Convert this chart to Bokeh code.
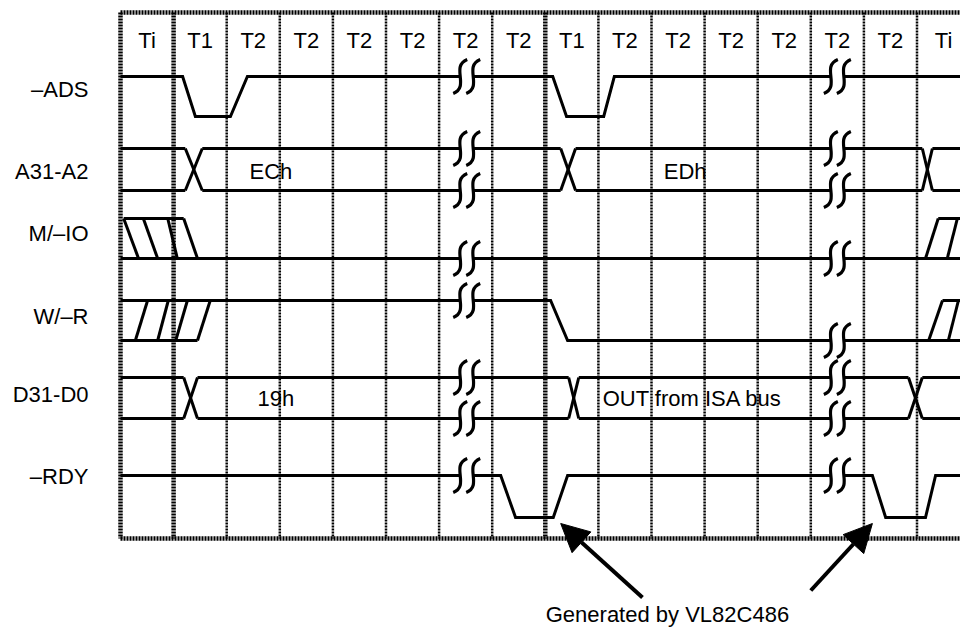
import numpy as np
from bokeh.plotting import figure
from bokeh.models import Range1d, Arrow, NormalHead
from bokeh.embed import file_html
from bokeh.resources import INLINE
from bokeh.core.properties import value

# ---------------- data (time in clock cycles, levels 1=high 0=low) ----------------
cycle_labels = ["Ti", "T1", "T2", "T2", "T2", "T2", "T2", "T2",
                "T1", "T2", "T2", "T2", "T2", "T2", "T2", "Ti"]
heavy_edges = [0, 1, 8]
signal_names = ["–ADS", "A31-A2", "M/–IO", "W/–R", "D31-D0", "–RDY"]
break_times = [6.52, 13.5]

ads_t = [0, 1.17, 1.41, 2.07, 2.39, 8.14, 8.40, 9.10, 9.30, 16]
ads_lv = [1, 1, 0, 0, 1, 1, 0, 0, 1, 1]

addr_cross = [(1.22, 1.54), (8.29, 8.57), (15.10, 15.29)]
addr_values = ["ECh", "EDh"]
addr_value_t = [2.43, 10.23]

mio_t = [[0.06, 1.19], [0, 16], [15.40, 16]]
mio_lv = [[1, 1], [0, 0], [1, 1]]
mio_hatch_hi = [0.06, 0.43, 0.89, 1.19, 15.40, 15.76]
mio_hatch_lo = [0.34, 0.70, 1.07, 1.45, 15.16, 15.57]

wr_t = [[0, 8.10, 8.42, 16], [0, 1.45], [15.48, 16]]
wr_lv = [[1, 1, 0, 0], [0, 0], [1, 1]]
wr_hatch_hi = [0.51, 0.90, 1.26, 1.69, 15.48, 15.78]
wr_hatch_lo = [0.28, 0.70, 1.04, 1.45, 15.22, 15.59]

data_cross = [(1.19, 1.45), (8.44, 8.63), (14.84, 15.10)]
data_values = ["19h", "OUT from ISA bus"]
data_value_t = [2.58, 9.08]

rdy_t = [0, 7.16, 7.44, 8.15, 8.42, 14.16, 14.41, 15.16, 15.35, 16]
rdy_lv = [1, 1, 0, 0, 1, 1, 0, 0, 1, 1]

note_text = "Generated by VL82C486"
note_t = 10.3
arrow_tail_t = [9.83, 13.0]
arrow_head_t = [8.29, 14.16]

# ---------------- layout (pixels) ----------------
PX = 53.1          # pixels per clock cycle
X0 = 120           # pixel x of cycle 0
W, H = 960, 628
def tx(px):
    return (px - X0) / PX

row_hi = [76, 148, 218, 300, 377, 475]
row_lo = [116, 190, 258, 340, 418, 517]
label_y = [89, 171, 233, 316, 394, 476]
GRID_TOP, GRID_BOT = 12, 538
HEADER_Y = 40
FONT = value("Liberation Sans")
FS = "22px"

p = figure(width=W, height=H, output_backend="svg", toolbar_location=None,
           x_range=Range1d(tx(0), tx(W)), y_range=Range1d(H, 0),
           x_axis_type=None, y_axis_type=None, min_border=0,
           outline_line_color=None, background_fill_color="white",
           border_fill_color="white")

# ---- grid ----
edges = list(range(0, len(cycle_labels) + 1))
thin = [e for e in edges if e not in heavy_edges]
p.segment(x0=thin, y0=GRID_TOP, x1=thin, y1=GRID_BOT, line_color="black",
          line_width=2.5, line_dash="2 1")
p.segment(x0=heavy_edges, y0=GRID_TOP, x1=heavy_edges, y1=GRID_BOT,
          line_color="black", line_width=4.5, line_dash="2 1")
p.segment(x0=[0, 0], y0=[GRID_TOP, GRID_BOT], x1=[16, 16], y1=[GRID_TOP, GRID_BOT],
          line_color="black", line_width=4.5, line_dash="2 1")

# header
p.text(x=[i + 0.5 for i in range(len(cycle_labels))], y=[HEADER_Y] * len(cycle_labels),
       text=cycle_labels, text_font=FONT, text_font_size=FS,
       text_align="center", text_baseline="middle", text_color="black")

# signal names
p.text(x=[tx(88)] * len(signal_names), y=label_y, text=signal_names,
       text_font=FONT, text_font_size=FS, text_align="right",
       text_baseline="middle", text_color="black")

# ---- waveforms ----
GAP = 6.5 / PX
xs_all, ys_all, marks = [], [], []

def add_path(ts, ys):
    cur_t, cur_y = [ts[0]], [ys[0]]
    for i in range(len(ts) - 1):
        t0, t1, y0, y1 = ts[i], ts[i + 1], ys[i], ys[i + 1]
        for b in break_times:
            if t0 < b - GAP and b + GAP < t1 and y0 == y1:
                cur_t.append(b - GAP); cur_y.append(y0)
                xs_all.append(cur_t); ys_all.append(cur_y)
                marks.append((b - GAP, y0)); marks.append((b + GAP, y0))
                cur_t, cur_y = [b + GAP], [y0]
        cur_t.append(t1); cur_y.append(y1)
    xs_all.append(cur_t); ys_all.append(cur_y)

def lv2y(row, lvs):
    return [row_lo[row] + l * (row_hi[row] - row_lo[row]) for l in lvs]

add_path(ads_t, lv2y(0, ads_lv))
add_path(rdy_t, lv2y(5, rdy_lv))
for ts, lv in zip(mio_t, mio_lv):
    add_path(ts, lv2y(2, lv))
for ts, lv in zip(wr_t, wr_lv):
    add_path(ts, lv2y(3, lv))
hx0, hy0, hx1, hy1 = [], [], [], []
for a, b in zip(mio_hatch_hi, mio_hatch_lo):
    hx0.append(a); hy0.append(row_hi[2]); hx1.append(b); hy1.append(row_lo[2])
for a, b in zip(wr_hatch_hi, wr_hatch_lo):
    hx0.append(a); hy0.append(row_hi[3]); hx1.append(b); hy1.append(row_lo[3])
p.segment(x0=hx0, y0=hy0, x1=hx1, y1=hy1, line_color="black", line_width=3)

def add_bus(row, crosses):
    hi, lo = row_hi[row], row_lo[row]
    starts = [0] + [c[1] for c in crosses]
    ends = [c[0] for c in crosses] + [16]
    for s, e in zip(starts, ends):
        add_path([s, e], [hi, hi])
        add_path([s, e], [lo, lo])
    for s, e in crosses:
        xs_all.append([s, e]); ys_all.append([hi, lo])
        xs_all.append([s, e]); ys_all.append([lo, hi])

add_bus(1, addr_cross)
add_bus(4, data_cross)

p.multi_line(xs=xs_all, ys=ys_all, line_color="black", line_width=3,
             line_join="miter")

# break marks
mx = [m[0] for m in marks]
my = [m[1] for m in marks]
p.bezier(x0=[x + 7 / PX for x in mx], y0=[y - 17 for y in my],
         x1=[x - 7 / PX for x in mx], y1=[y + 17 for y in my],
         cx0=[x - 10 / PX for x in mx], cy0=[y - 10 for y in my],
         cx1=[x + 10 / PX for x in mx], cy1=[y + 10 for y in my],
         line_color="black", line_width=3.2)

# bus values
p.text(x=addr_value_t, y=[(row_hi[1] + row_lo[1]) / 2 + 2] * len(addr_values),
       text=addr_values, text_font=FONT, text_font_size=FS,
       text_align="left", text_baseline="middle", text_color="black")
p.text(x=data_value_t, y=[(row_hi[4] + row_lo[4]) / 2] * len(data_values),
       text=data_values, text_font=FONT, text_font_size=FS,
       text_align="left", text_baseline="middle", text_color="black")

# annotation
tails_y = [597, 590]
for t0, t1, y0 in zip(arrow_tail_t, arrow_head_t, tails_y):
    p.add_layout(Arrow(end=NormalHead(size=28, fill_color="black", line_color="black",
                                      line_width=1),
                       x_start=t0, y_start=y0, x_end=t1, y_end=523,
                       line_color="black", line_width=4))
p.text(x=[note_t], y=[614], text=[note_text], text_font=FONT, text_font_size=FS,
       text_align="center", text_baseline="middle", text_color="black")

open("out.html", "w").write(file_html(p, INLINE))
